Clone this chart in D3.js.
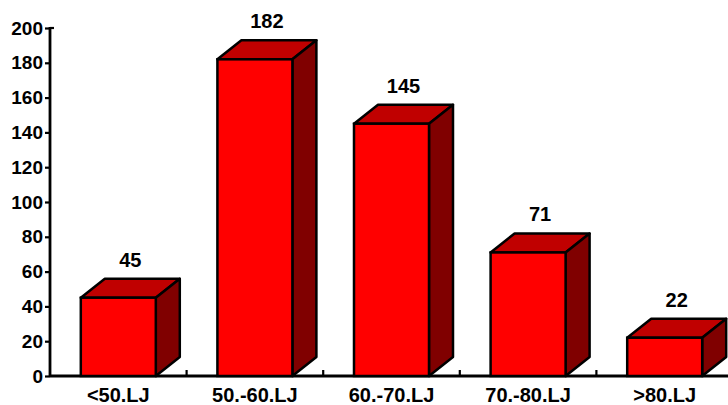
<!DOCTYPE html>
<html>
<head>
<meta charset="utf-8">
<script src="https://cdn.jsdelivr.net/npm/d3@7"></script>
<style>
  body { margin: 0; background: #fff; overflow: hidden; }
  svg { display: block; }
  text { font-family: Arial, "Liberation Sans", sans-serif; font-weight: bold; fill: #000; }
</style>
</head>
<body>
<svg width="728" height="405"></svg>
<script>
var categories = ["<50.LJ", "50.-60.LJ", "60.-70.LJ", "70.-80.LJ", ">80.LJ"];
var values = [45, 182, 145, 71, 22];
var yTicks = [0, 20, 40, 60, 80, 100, 120, 140, 160, 180, 200];

var svg = d3.select("svg"),
    plotLeft = 50, plotBottom = 376, plotTop = 28,
    depthX = 24, depthY = 19;

var x = d3.scaleBand()
    .domain(categories)
    .range([plotLeft, 733])
    .paddingInner(0.451)
    .paddingOuter(0.2255);

var y = d3.scaleLinear()
    .domain([0, 200])
    .range([plotBottom, plotTop]);

// y axis
var yAxis = svg.append("g")
    .attr("transform", "translate(" + plotLeft + ",0)")
    .call(d3.axisLeft(y).tickValues(yTicks).tickSize(5).tickPadding(2));
yAxis.select(".domain").remove();
yAxis.selectAll(".tick line").attr("stroke", "#000").attr("stroke-width", 2.2);
yAxis.selectAll(".tick text").attr("font-size", 19).attr("fill", "#000");

svg.append("line")
    .attr("x1", plotLeft).attr("x2", plotLeft)
    .attr("y1", y(200) - 1).attr("y2", plotBottom + 1)
    .attr("stroke", "#000").attr("stroke-width", 2.8);
svg.append("line")
    .attr("x1", plotLeft).attr("x2", plotLeft + 4)
    .attr("y1", y(200)).attr("y2", y(200))
    .attr("stroke", "#000").attr("stroke-width", 2.2);

// x axis baseline and separators
svg.append("line")
    .attr("x1", plotLeft).attr("x2", 728)
    .attr("y1", plotBottom).attr("y2", plotBottom)
    .attr("stroke", "#000").attr("stroke-width", 2.8);

svg.selectAll(".sep")
    .data(categories)
    .enter().append("line")
    .attr("class", "sep")
    .attr("x1", function(d) { return x(d) - x.step() * x.paddingInner() / 2 + x.step(); })
    .attr("x2", function(d) { return x(d) - x.step() * x.paddingInner() / 2 + x.step(); })
    .attr("y1", plotBottom)
    .attr("y2", plotBottom - 6)
    .attr("stroke", "#000").attr("stroke-width", 2.2);

svg.selectAll(".cat")
    .data(categories)
    .enter().append("text")
    .attr("class", "cat")
    .attr("x", function(d) { return x(d) + x.bandwidth() / 2; })
    .attr("y", 402)
    .attr("text-anchor", "middle")
    .attr("font-size", 20)
    .text(function(d) { return d; });

// 3d bars
var bars = svg.selectAll(".bar")
    .data(values)
    .enter().append("g")
    .attr("class", "bar");

function bx(i) { return x(categories[i]); }
var w = x.bandwidth();

bars.append("path")
    .attr("d", function(d, i) {
        var x0 = bx(i), y0 = y(d);
        return "M" + x0 + "," + y0 + "L" + (x0 + depthX) + "," + (y0 - depthY) +
            "L" + (x0 + w + depthX) + "," + (y0 - depthY) + "L" + (x0 + w) + "," + y0 + "Z";
    })
    .attr("fill", "#c00000").attr("stroke", "#000").attr("stroke-width", 2.5).attr("stroke-linejoin", "round");

bars.append("path")
    .attr("d", function(d, i) {
        var x1 = bx(i) + w, y0 = y(d);
        return "M" + x1 + "," + y0 + "L" + (x1 + depthX) + "," + (y0 - depthY) +
            "L" + (x1 + depthX) + "," + (plotBottom - depthY) + "L" + x1 + "," + plotBottom + "Z";
    })
    .attr("fill", "#800000").attr("stroke", "#000").attr("stroke-width", 2.5).attr("stroke-linejoin", "round");

bars.append("rect")
    .attr("x", function(d, i) { return bx(i); })
    .attr("y", function(d) { return y(d); })
    .attr("width", w)
    .attr("height", function(d) { return plotBottom - y(d); })
    .attr("fill", "#ff0000").attr("stroke", "#000").attr("stroke-width", 2.5);

bars.append("text")
    .attr("x", function(d, i) { return bx(i) + (w + depthX) / 2; })
    .attr("y", function(d) { return y(d) - depthY - 12; })
    .attr("text-anchor", "middle")
    .attr("font-size", 20)
    .text(function(d) { return d; });
</script>
</body>
</html>
